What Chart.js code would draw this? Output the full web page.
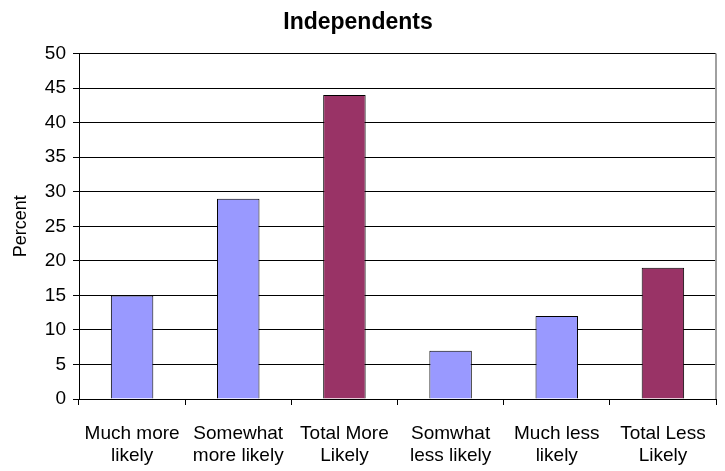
<!DOCTYPE html>
<html>
<head>
<meta charset="utf-8">
<script src="https://cdn.jsdelivr.net/npm/chart.js@4"></script>
<style>
  html, body { margin: 0; padding: 0; background: #fff; }
  #wrap { width: 725px; height: 471px; }
</style>
</head>
<body>
<div id="wrap"><canvas id="chart"></canvas></div>
<script>
  const categories = [
    ["Much more", "likely"],
    ["Somewhat", "more likely"],
    ["Total More", "Likely"],
    ["Somwhat", "less likely"],
    ["Much less", "likely"],
    ["Total Less", "Likely"]
  ];
  const percents = [15, 29, 44, 7, 12, 19];
  const barColors = ["#9999FF", "#9999FF", "#993366", "#9999FF", "#9999FF", "#993366"];

  // gray right edge of the plot area
  const rightBorder = {
    id: "rightBorder",
    afterDraw(chart) {
      const { ctx, chartArea } = chart;
      ctx.save();
      ctx.strokeStyle = "#a0a0a0";
      ctx.lineWidth = 2;
      ctx.beginPath();
      ctx.moveTo(chartArea.right, chartArea.top);
      ctx.lineTo(chartArea.right, chartArea.bottom);
      ctx.stroke();
      ctx.restore();
    }
  };

  Chart.defaults.font.family = "Arial, 'Liberation Sans', sans-serif";
  Chart.defaults.color = "#000";

  new Chart(document.getElementById("chart"), {
    type: "bar",
    data: {
      labels: categories,
      datasets: [{
        label: "Percent",
        data: percents,
        backgroundColor: barColors,
        borderColor: "#000",
        borderWidth: 1,
        borderSkipped: "bottom",
        barPercentage: 0.4,
        categoryPercentage: 1
      }]
    },
    options: {
      responsive: true,
      maintainAspectRatio: false,
      animation: false,
      layout: { padding: { left: 0, right: 9, top: 0, bottom: 0 } },
      plugins: {
        legend: { display: false },
        tooltip: { enabled: false },
        title: {
          display: true,
          text: "Independents",
          font: { size: 23, weight: "bold" },
          color: "#000",
          padding: { top: 9, bottom: 17 }
        }
      },
      scales: {
        x: {
          grid: { drawOnChartArea: false, color: "#000", tickLength: 6 },
          border: { color: "#000" },
          ticks: { font: { size: 19 }, padding: 17, maxRotation: 0, autoSkip: false },
          afterFit(scale) { scale.height = 72; }
        },
        y: {
          min: 0,
          max: 50,
          ticks: { stepSize: 5, font: { size: 19 }, padding: 7 },
          grid: { color: "#000", tickLength: 6 },
          border: { color: "#000" },
          title: { display: true, text: "Percent", font: { size: 18 }, padding: { top: 10, bottom: 0 } },
          afterFit(scale) { scale.width = 79; }
        }
      }
    },
    plugins: [rightBorder]
  });
</script>
</body>
</html>
